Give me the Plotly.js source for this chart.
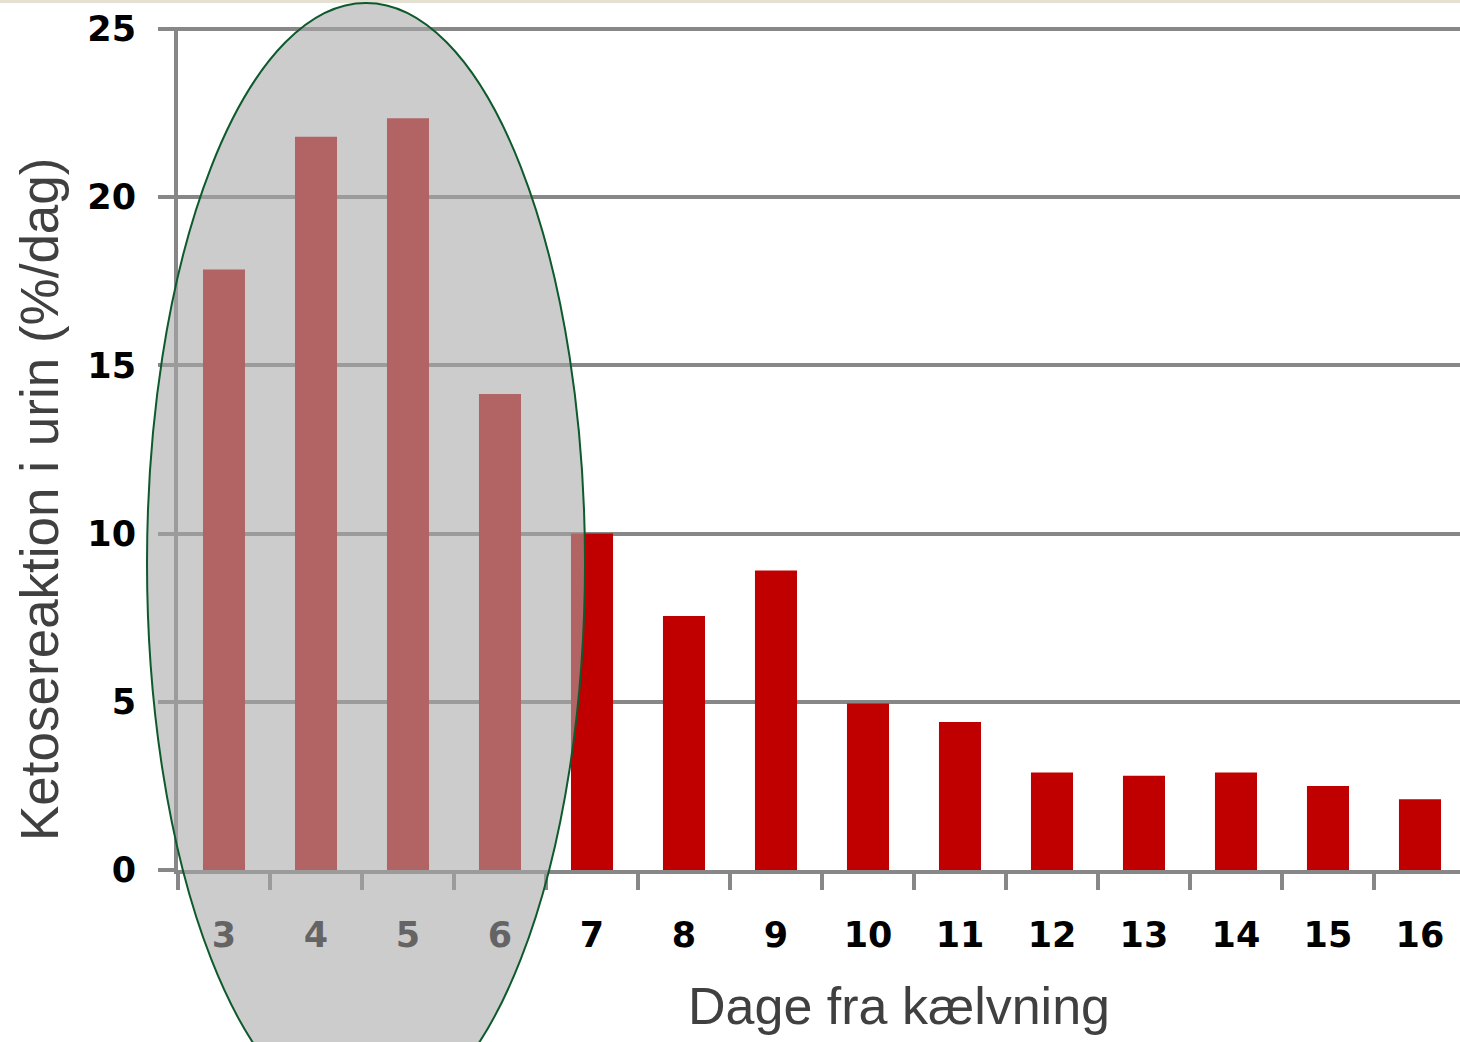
<!DOCTYPE html>
<html>
<head>
<meta charset="utf-8">
<script src="https://cdn.plot.ly/plotly-3.0.1.min.js"></script>
<style>html,body{margin:0;padding:0;background:#fff;}#chart{width:1460px;height:1042px;}</style>
</head>
<body>
<div id="chart"></div>
<script>
// Data
const days = ["3","4","5","6","7","8","9","10","11","12","13","14","15","16"];
const ketoseValues = [17.85, 21.8, 22.35, 14.15, 10.0, 7.55, 8.9, 4.95, 4.4, 2.9, 2.8, 2.9, 2.5, 2.1];
const xTitle = "Dage fra kælvning";
const yTitle = "Ketosereaktion i urin (%/dag)";

const gridColor = "#878787";

const trace = {
  type: "bar",
  x: days,
  y: ketoseValues,
  marker: {color: "#C00000"},
  hoverinfo: "x+y"
};

const layout = {
  width: 1460,
  height: 1042,
  margin: {l: 178, r: 0, t: 27, b: 172, pad: 0},
  paper_bgcolor: "#ffffff",
  plot_bgcolor: "#ffffff",
  showlegend: false,
  bargap: 0.543,
  xaxis: {
    type: "category",
    range: [-0.5, 13.435],
    showgrid: false,
    zeroline: false,
    showline: true,
    linecolor: gridColor,
    linewidth: 4,
    ticks: "outside",
    tickson: "boundaries",
    ticklen: 16,
    tickwidth: 4,
    tickcolor: gridColor,
    ticklabelstandoff: 31,
    tickfont: {family: "DejaVu Sans", size: 35, color: "#000000", weight: "bold"}
  },
  yaxis: {
    range: [0, 25.06],
    tickvals: [0, 5, 10, 15, 20, 25],
    showgrid: true,
    gridcolor: gridColor,
    gridwidth: 4,
    zeroline: false,
    showline: true,
    linecolor: gridColor,
    linewidth: 4,
    ticks: "outside",
    ticklen: 16,
    tickwidth: 4,
    tickcolor: gridColor,
    ticklabelstandoff: 15,
    tickfont: {family: "DejaVu Sans", size: 35, color: "#000000", weight: "bold"}
  },
  shapes: [
    {
      type: "rect", xref: "paper", yref: "paper", layer: "above",
      x0: -0.14, x1: 1.0, y0: (870 - 3) / 843, y1: (870 - 0) / 843,
      fillcolor: "#e4e1d3", line: {width: 0}
    },
    {
      type: "circle", xref: "paper", yref: "paper", layer: "above",
      x0: (147 - 178) / 1282, x1: (585 - 178) / 1282,
      y0: (870 - 1123) / 843, y1: (870 - 3) / 843,
      fillcolor: "rgba(169,169,169,0.592)",
      line: {color: "#0d5a2c", width: 2}
    }
  ],
  annotations: [
    {
      text: xTitle, xref: "paper", yref: "paper",
      x: (899 - 178) / 1282, y: (870 - 1006) / 843,
      xanchor: "center", yanchor: "middle", showarrow: false,
      font: {family: "Liberation Sans", size: 52, color: "#404040"}
    },
    {
      text: yTitle, xref: "paper", yref: "paper",
      x: (39 - 178) / 1282, y: (870 - 500) / 843,
      xanchor: "center", yanchor: "middle", showarrow: false, textangle: -90,
      font: {family: "Liberation Sans", size: 53, color: "#404040"}
    }
  ]
};

Plotly.newPlot("chart", [trace], layout, {displayModeBar: false, staticPlot: true});
</script>
</body>
</html>
